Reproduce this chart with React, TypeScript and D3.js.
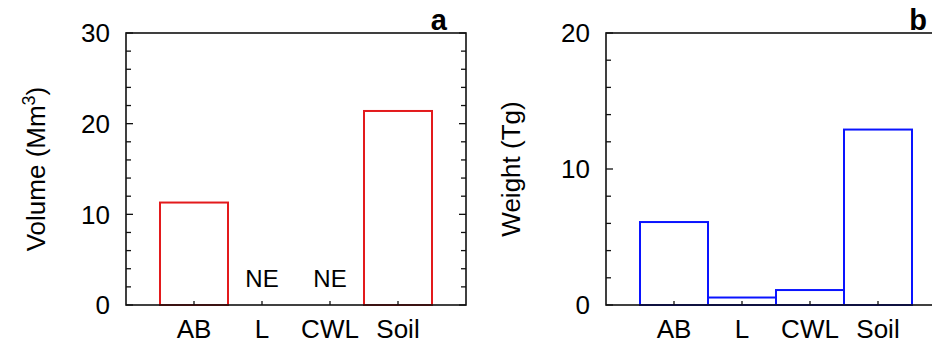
import React from 'react'
import * as d3 from 'd3'

const categories = ['AB', 'L', 'CWL', 'Soil']
// null = not estimated (NE)
const volumeValues: (number | null)[] = [11.3, null, null, 21.4]
const weightValues: (number | null)[] = [6.1, 0.55, 1.1, 12.9]
const volumeTicks = [0, 10, 20, 30]
const weightTicks = [0, 10, 20]
const minorStep = 2

const FONT = '"Liberation Sans", Arial, Helvetica, sans-serif'

interface PanelProps {
    left: number
    values: (number | null)[]
    ticks: number[]
    color: string
    label: string
    titleOffset: number
    title: React.ReactNode
}

const top = 33
const innerWidth = 340
const innerHeight = 272

function Panel({ left, values, ticks, color, label, titleOffset, title }: PanelProps) {
    const yMax = ticks[ticks.length - 1]
    const x = d3.scaleBand<string>()
        .domain(categories)
        .range([left, left + innerWidth])
        .paddingInner(0)
        .paddingOuter(0.5)
    const y = d3.scaleLinear().domain([0, yMax]).range([top + innerHeight, top])
    const minor = d3.range(0, yMax + 0.001, minorStep).filter(v => !ticks.includes(v))
    const right = left + innerWidth
    const bottom = top + innerHeight

    return (
        <g>
            {/* bars */}
            {categories.map((c, i) => {
                const v = values[i]
                if (v == null) {
                    return (
                        <text key={c} x={x(c)! + x.bandwidth() / 2} y={bottom - 18}
                            textAnchor="middle" fontSize={24} fontFamily={FONT} fill="#000">NE</text>
                    )
                }
                return (
                    <rect key={c} x={x(c)!} y={y(v)} width={x.bandwidth()} height={bottom - y(v)}
                        fill="none" stroke={color} strokeWidth={2} />
                )
            })}

            {/* frame */}
            <rect x={left} y={top} width={innerWidth} height={innerHeight}
                fill="none" stroke="#111" strokeWidth={1.6} />

            {/* y ticks, both sides, inward */}
            {ticks.map(t => (
                <g key={'M' + t}>
                    <line x1={left} x2={left + 7} y1={y(t)} y2={y(t)} stroke="#111" strokeWidth={1.3} />
                    <line x1={right} x2={right - 7} y1={y(t)} y2={y(t)} stroke="#111" strokeWidth={1.3} />
                    <text x={left - 16} y={y(t)} dy="0.36em" textAnchor="end"
                        fontSize={26} fontFamily={FONT} fill="#000">{t}</text>
                </g>
            ))}
            {minor.map(t => (
                <g key={'m' + t}>
                    <line x1={left} x2={left + 5} y1={y(t)} y2={y(t)} stroke="#111" strokeWidth={1.3} />
                    <line x1={right} x2={right - 5} y1={y(t)} y2={y(t)} stroke="#111" strokeWidth={1.3} />
                </g>
            ))}

            {/* x ticks + labels */}
            {categories.map(c => {
                const cx = x(c)! + x.bandwidth() / 2
                return (
                    <g key={'x' + c}>
                        <line x1={cx} x2={cx} y1={bottom} y2={bottom - 4} stroke="#111" strokeWidth={1.3} />
                        <text x={cx} y={338} textAnchor="middle" fontSize={26} fontFamily={FONT} fill="#000">{c}</text>
                    </g>
                )
            })}

            {/* axis title */}
            <text transform={`translate(${left - titleOffset},${top + innerHeight / 2}) rotate(-90)`}
                textAnchor="middle" fontSize={26} fontFamily={FONT} fill="#000">{title}</text>

            {/* panel letter */}
            <text x={right - 19} y={30} textAnchor="end" fontSize={29} fontWeight="bold"
                fontFamily={FONT} fill="#000">{label}</text>
        </g>
    )
}

export default function App() {
    return (
        <svg width={932} height={343} viewBox="0 0 932 343"
            style={{ position: 'fixed', left: 0, top: 0, background: '#fff' }}>
            <Panel left={126} values={volumeValues} ticks={volumeTicks} color="#e31a1c" label="a"
                titleOffset={81}
                title={<>Volume (Mm<tspan dy="-10" fontSize={18}>3</tspan><tspan dy="10">)</tspan></>} />
            <Panel left={606} values={weightValues} ticks={weightTicks} color="#0a14ff" label="b"
                titleOffset={86}
                title="Weight (Tg)" />
        </svg>
    )
}
